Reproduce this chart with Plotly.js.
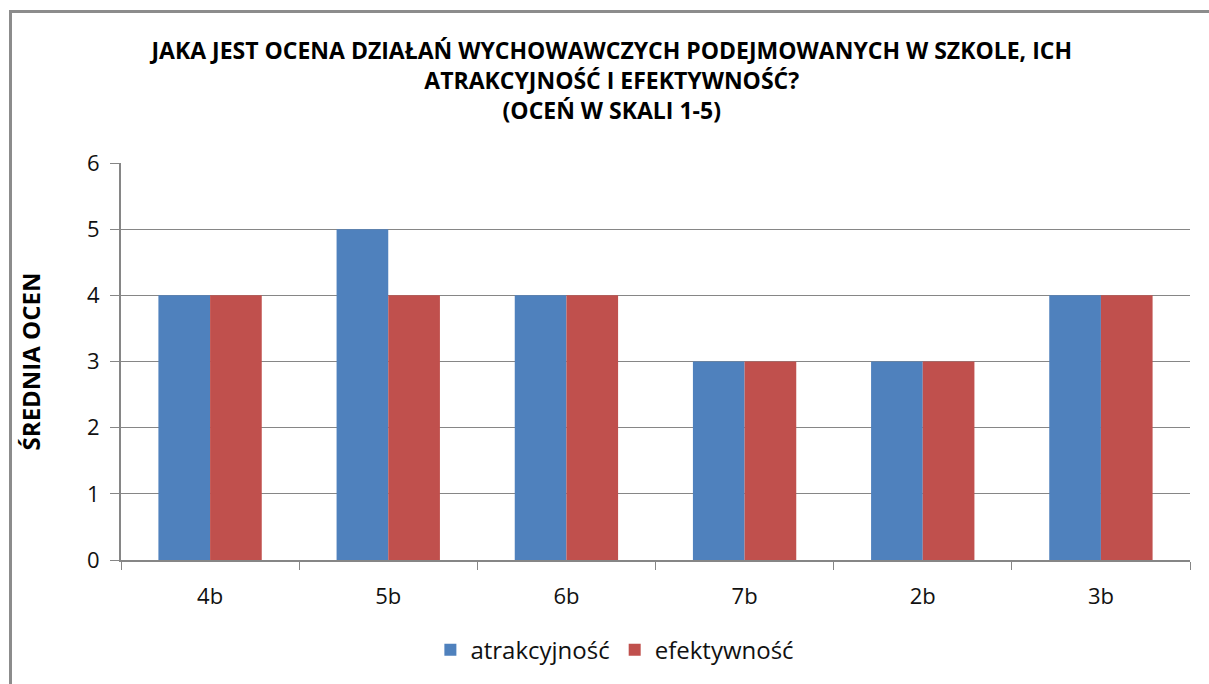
<!DOCTYPE html>
<html>
<head>
<meta charset="utf-8">
<script src="https://cdn.plot.ly/plotly-3.0.1.min.js"></script>
<style>
  html, body { margin: 0; padding: 0; background: #fff; }
  #wrap { position: relative; width: 1209px; height: 684px; overflow: hidden; }
  #frame { position: absolute; left: 9px; top: 10px; width: 1300px; height: 800px;
           border-left: 3px solid #8c8c8c; border-top: 3px solid #8c8c8c; pointer-events: none; }
  #chart { position: absolute; left: 0; top: 0; width: 1209px; height: 684px; }
</style>
</head>
<body>
<div id="wrap">
  <div id="chart"></div>
  <div id="frame"></div>
</div>
<script>
const categories = ["4b", "5b", "6b", "7b", "2b", "3b"];
const atrakcyjnosc = [4, 5, 4, 3, 3, 4];
const efektywnosc = [4, 4, 4, 3, 3, 4];
const seriesNames = ["atrakcyjność", "efektywność"];
const yTicks = [0, 1, 2, 3, 4, 5, 6];

const font = "Open Sans, Noto Sans, sans-serif";

const traces = [
  { type: "bar", name: seriesNames[0], x: categories, y: atrakcyjnosc,
    marker: { color: "#4F81BD" } },
  { type: "bar", name: seriesNames[1], x: categories, y: efektywnosc,
    marker: { color: "#C0504D" } }
];

const layout = {
  width: 1209, height: 684,
  paper_bgcolor: "rgba(0,0,0,0)", plot_bgcolor: "#fff",
  margin: { l: 121, r: 19, t: 163, b: 123 },
  barmode: "group", bargap: 0.42, bargroupgap: 0,
  title: {
    text: "<b>JAKA JEST OCENA DZIAŁAŃ WYCHOWAWCZYCH PODEJMOWANYCH W SZKOLE, ICH<br>ATRAKCYJNOŚĆ I EFEKTYWNOŚĆ?<br>(OCEŃ W SKALI 1-5)</b>",
    font: { family: font, size: 23, color: "#000" },
    x: 0.506, xanchor: "center", yref: "container", y: 0.914, yanchor: "top"
  },
  xaxis: {
    type: "category", tickson: "boundaries", ticks: "outside", ticklen: 8,
    tickcolor: "#868686", showline: true, linecolor: "#868686", linewidth: 2,
    tickfont: { family: font, size: 22, color: "#111" }, showgrid: false,
    ticklabelstandoff: 16
  },
  yaxis: {
    range: [0, 6], tickvals: yTicks, ticks: "outside", ticklen: 9,
    tickcolor: "#868686", showline: true, linecolor: "#868686", linewidth: 2,
    gridcolor: "#868686", gridwidth: 1, zeroline: false,
    tickfont: { family: font, size: 22, color: "#111" },
    ticklabelstandoff: 6,
    title: { text: "<b>ŚREDNIA OCEN</b>", font: { family: font, size: 24, color: "#000" }, standoff: 40 }
  },
  legend: {
    orientation: "h", x: 0.462, xanchor: "center", y: -0.224, yanchor: "middle",
    font: { family: font, size: 24, color: "#111" }, itemwidth: 30
  },
  showlegend: true
};

Plotly.newPlot("chart", traces, layout, { displayModeBar: false, staticPlot: true });
</script>
</body>
</html>
